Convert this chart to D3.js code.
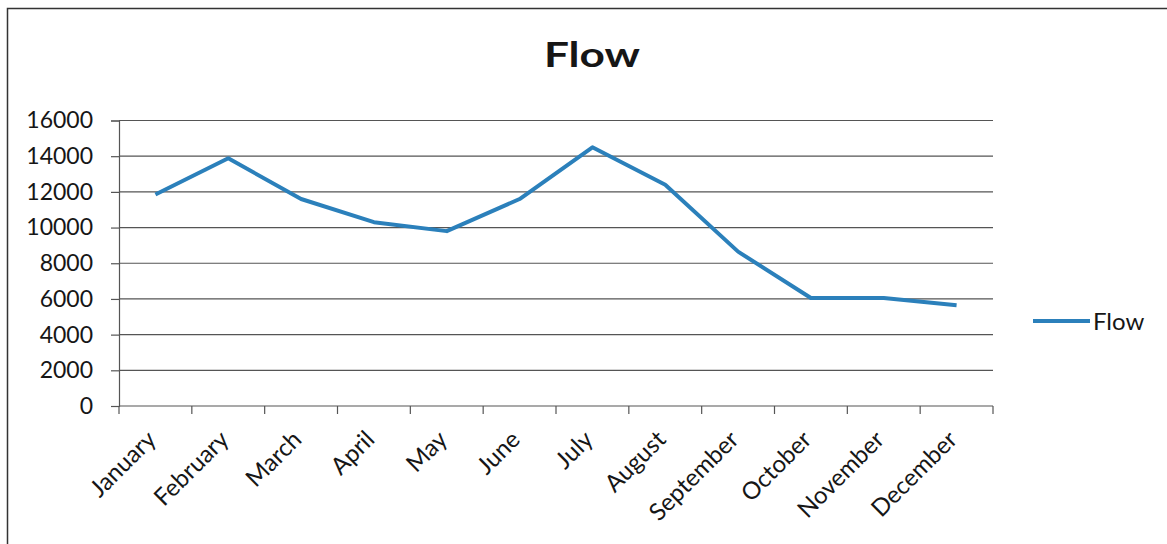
<!DOCTYPE html>
<html>
<head>
<meta charset="utf-8">
<script src="https://cdn.jsdelivr.net/npm/d3@7"></script>
<style>
  html, body { margin: 0; padding: 0; background: #fff; }
  svg { display: block; }
</style>
</head>
<body>
<svg id="chart" width="1167" height="544"></svg>
<script>
// Monthly flow values
const months = ["January", "February", "March", "April", "May", "June",
                "July", "August", "September", "October", "November", "December"];
const flow = [11850, 13880, 11600, 10300, 9800, 11600,
              14500, 12400, 8650, 6050, 6050, 5650];
const yTicks = [0, 2000, 4000, 6000, 8000, 10000, 12000, 14000, 16000];
const seriesName = "Flow";

const svg = d3.select("#chart");
const font = "Lato, 'Open Sans', sans-serif";
const gridColor = "#555";
const textColor = "#161616";
const lineColor = "#2b80bb";

const plot = { left: 119, right: 993, top: 120.5, bottom: 406 };

// Outer chart frame
svg.append("rect")
  .attr("x", 7.5).attr("y", 8.5)
  .attr("width", 1170).attr("height", 560)
  .attr("fill", "none").attr("stroke", "#333").attr("stroke-width", 1.5);

const x = d3.scaleBand().domain(months).range([plot.left, plot.right]).padding(0);
const y = d3.scaleLinear().domain([0, 16000]).range([plot.bottom, plot.top]);

// Title (wide, heavy lettering)
svg.append("text")
  .attr("transform", "translate(592,67) scale(1.3,1)")
  .attr("text-anchor", "middle")
  .attr("font-family", font).attr("font-weight", 700)
  .attr("font-size", 34).attr("fill", textColor)
  .text("Flow");

// Horizontal gridlines
svg.append("g")
  .selectAll("line")
  .data(yTicks.filter(d => d > 0))
  .join("line")
  .attr("x1", plot.left).attr("x2", plot.right)
  .attr("y1", d => y(d)).attr("y2", d => y(d))
  .attr("stroke", gridColor).attr("stroke-width", 1.2);

// Y axis
const yAxis = svg.append("g")
  .attr("transform", `translate(${plot.left},0)`)
  .call(d3.axisLeft(y).tickValues(yTicks).tickSize(8).tickPadding(18).tickFormat(d3.format("d")));
yAxis.select(".domain").attr("stroke", gridColor).attr("stroke-width", 1.2);
yAxis.selectAll(".tick line").attr("stroke", gridColor).attr("stroke-width", 1.2);
yAxis.selectAll(".tick text")
  .attr("font-family", font).attr("font-size", 23).attr("fill", textColor);

// X axis: ticks on category boundaries
const xAxisG = svg.append("g").attr("transform", `translate(0,${plot.bottom})`);
xAxisG.append("line")
  .attr("x1", plot.left).attr("x2", plot.right)
  .attr("y1", 0).attr("y2", 0)
  .attr("stroke", gridColor).attr("stroke-width", 1.2);
const boundaries = months.map(m => x(m)).concat([x(months[months.length - 1]) + x.bandwidth()]);
xAxisG.selectAll("line.tk")
  .data(boundaries)
  .join("line").attr("class", "tk")
  .attr("x1", d => d).attr("x2", d => d)
  .attr("y1", 0).attr("y2", 8)
  .attr("stroke", gridColor).attr("stroke-width", 1.2);

// Rotated category labels
xAxisG.selectAll("text")
  .data(months)
  .join("text")
  .attr("transform", d => `translate(${x(d) + x.bandwidth() / 2 + 2},${35}) rotate(-45)`)
  .attr("text-anchor", "end")
  .attr("font-family", font).attr("font-size", 24).attr("fill", textColor)
  .text(d => d);

// Data line
const line = d3.line()
  .x((d, i) => x(months[i]) + x.bandwidth() / 2)
  .y(d => y(d));
svg.append("path")
  .datum(flow)
  .attr("d", line)
  .attr("fill", "none")
  .attr("stroke", lineColor).attr("stroke-width", 4)
  .attr("stroke-linejoin", "round").attr("stroke-linecap", "butt");

// Legend
const legend = svg.append("g").attr("transform", "translate(1033,321)");
legend.append("line")
  .attr("x1", 0).attr("x2", 57).attr("y1", 0).attr("y2", 0)
  .attr("stroke", lineColor).attr("stroke-width", 4);
legend.append("text")
  .attr("x", 60).attr("y", 9)
  .attr("font-family", font).attr("font-size", 24).attr("fill", textColor)
  .text(seriesName);
</script>
</body>
</html>
